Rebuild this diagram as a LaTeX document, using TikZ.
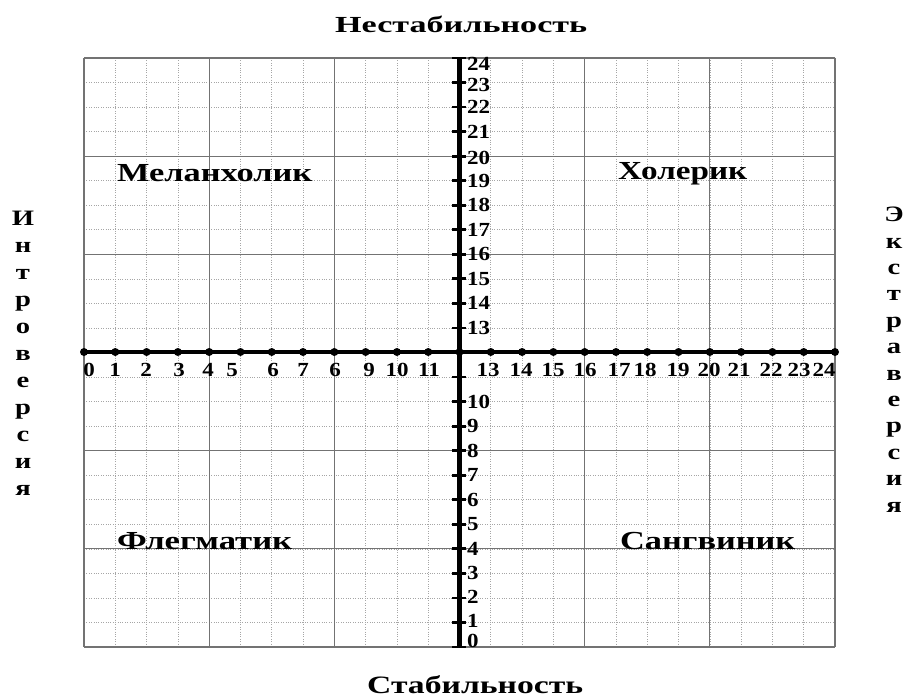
\documentclass[tikz,border=0pt]{standalone}
\usepackage{fontspec}
\setmainfont{Liberation Serif}
\newfontfamily\numfont[FakeStretch=1.15]{Liberation Serif}
\newfontfamily\sidefont[FakeStretch=1.3]{Liberation Serif}
\newcommand{\wtext}[2]{\resizebox{#1}{\height}{#2}}
\tikzset{
  minorgrid/.style={draw=black!35, line width=0.6pt, dash pattern=on 1pt off 1.4pt},
  majorgrid/.style={draw=black!55, line width=1.1pt},
  haxis/.style={draw=black, line width=3.6pt},
  vaxis/.style={draw=black, line width=4.6pt},
  vtick/.style={draw=black, line width=2.8pt},
  hdot/.style={circle, fill=black, inner sep=0pt, minimum size=8pt},
  numlab/.style={font=\numfont\bfseries\fontsize{20}{20}\selectfont, inner sep=0pt, text height=13.5pt, text depth=0pt},
  biglab/.style={inner sep=0pt, anchor=base west},
  sidelab/.style={inner sep=0pt, align=center, font=\sidefont\bfseries\fontsize{22}{27}\selectfont}
}
\begin{document}
\begin{tikzpicture}[x=1pt,y=-1pt]
\useasboundingbox (0,0) rectangle (906,698);
% grid
\foreach \i in {0,...,24}{
  \draw[minorgrid] ({84+\i*31.2917},58) -- ({84+\i*31.2917},647);
  \draw[minorgrid] (84,{58+\i*24.5417}) -- (835,{58+\i*24.5417});
}
\foreach \i in {0,4,...,24}{
  \draw[majorgrid] ({84+\i*31.2917},58) -- ({84+\i*31.2917},647);
  \draw[majorgrid] (84,{58+\i*24.5417}) -- (835,{58+\i*24.5417});
}
% horizontal axis
\coordinate (hl) at (84,352);
\coordinate (hr) at (835,352);
\draw[haxis] (hl) -- (hr);
\foreach \i in {0,...,24}{
  \node[hdot] (hd\i) at ({84+\i*31.2917},352) {};
}
% vertical axis
\coordinate (vt) at (459.5,58);
\coordinate (vb) at (459.5,647);
\draw[vaxis] (vb) -- (vt);
\foreach \j in {0,...,24}{
  \coordinate (tl\j) at (452,{647-\j*24.5417});
  \coordinate (tr\j) at (466,{647-\j*24.5417});
  \draw[vtick] (tl\j) -- (tr\j);
}
% horizontal axis numbers
\foreach \i/\lab/\xx in {0/0/89,1/1/115,2/2/146,3/3/179,4/4/208,5/5/232,6/6/273,7/7/303,8/6/335,9/9/369,10/10/397,11/11/429,13/13/488,14/14/521,15/15/553,16/16/585,17/17/619,18/18/645,19/19/678,20/20/709,21/21/739,22/22/771,23/23/799,24/24/824}{
  \node[numlab] (hn\i) at (\xx,370) {\lab};
}
% vertical axis numbers
\foreach \j/\yy in {0/641,1/621,2/597,3/573,4/549,5/524,6/500,7/475,8/451,9/426,10/402,13/328,14/303,15/279,16/254,17/230,18/205,19/181,20/158,21/132,22/107,23/85,24/64}{
  \node[numlab, anchor=west] (vn\j) at (467,\yy) {\j};
}
% titles
\node[biglab] (top) at (335,33) {\wtext{252pt}{\bfseries\fontsize{23}{23}\selectfont Нестабильность}};
\node[biglab] (bottom) at (367,693) {\wtext{216pt}{\bfseries\fontsize{25}{25}\selectfont Стабильность}};
% quadrants
\node[biglab] (mel) at (117,182) {\wtext{195pt}{\bfseries\fontsize{26}{26}\selectfont Меланхолик}};
\node[biglab] (hol) at (618,180) {\wtext{129pt}{\bfseries\fontsize{26}{26}\selectfont Холерик}};
\node[biglab] (fleg) at (117,549) {\wtext{175pt}{\bfseries\fontsize{26}{26}\selectfont Флегматик}};
\node[biglab] (sang) at (620,549) {\wtext{175pt}{\bfseries\fontsize{26}{26}\selectfont Сангвиник}};
% side labels
\node[sidelab, anchor=north] (intro) at (23,211) {И\\н\\т\\р\\о\\в\\е\\р\\с\\и\\я};
\node[sidelab, anchor=north, font=\sidefont\bfseries\fontsize{22}{26.4}\selectfont] (extra) at (894,207) {Э\\к\\с\\т\\р\\а\\в\\е\\р\\с\\и\\я};
\end{tikzpicture}
\end{document}
